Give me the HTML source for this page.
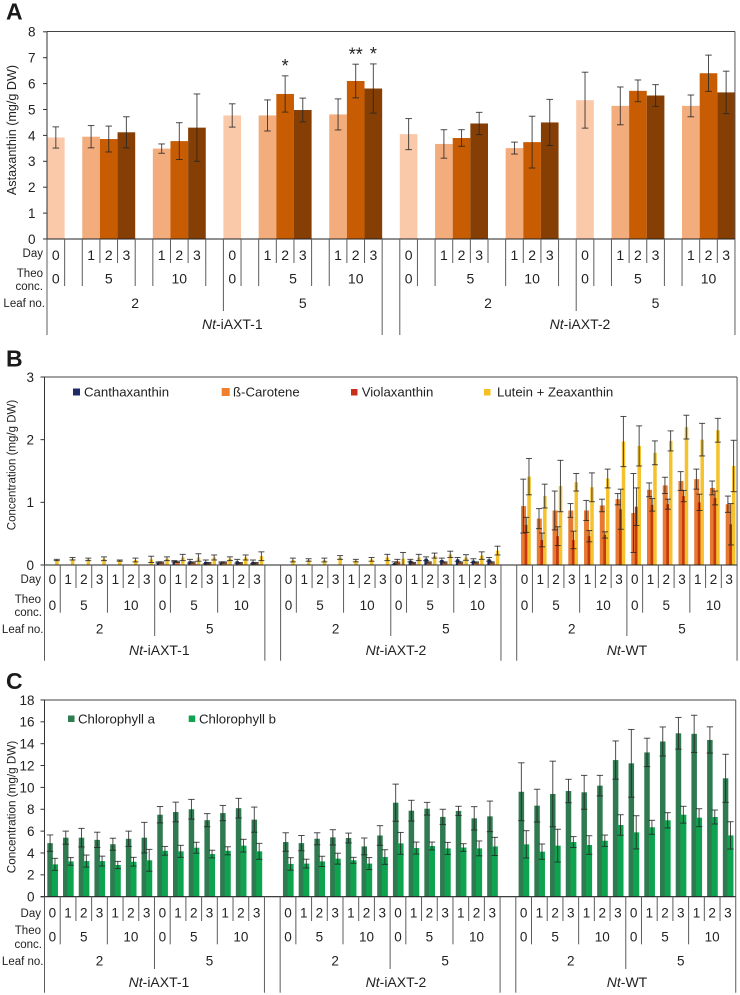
<!DOCTYPE html>
<html lang="en">
<head>
<meta charset="utf-8">
<title>Astaxanthin, carotenoid and chlorophyll concentration</title>
<style>
  html, body { margin: 0; padding: 0; background: #fff; }
  body { width: 740px; height: 995px; overflow: hidden; }
  svg { display: block; font-family: "Liberation Sans", Arial, sans-serif; fill: #222; }
  .letter { font-size: 23px; font-weight: bold; fill: #1a1a1a; }
  .row { font-size: 11.5px; text-anchor: end; }
  .strain { font-size: 14px; text-anchor: middle; }
  .legend { font-size: 13.2px; }
  .ytitle { font-size: 11.5px; text-anchor: middle; }
</style>
</head>
<body>
<svg id="figure" xmlns="http://www.w3.org/2000/svg" width="740" height="995" viewBox="0 0 740 995">

  <g id="panel-a">
    <text class="letter" x="6" y="19.5">A</text>
    <text class="ytitle" style="font-size:12.6px" transform="translate(16,130) rotate(-90)">Astaxanthin (mg/g DW)</text>
    <text class="row" x="43" y="257">Day</text>
    <text class="row" x="43" y="276.8">Theo</text>
    <text class="row" x="43" y="290">conc.</text>
    <text class="row" x="45" y="307">Leaf no.</text>
    <text class="strain" x="232.3" y="329"><tspan font-style="italic">Nt</tspan>-iAXT-1</text>
    <text class="strain" x="580" y="329"><tspan font-style="italic">Nt</tspan>-iAXT-2</text>
  </g>

  <g id="panel-b">
    <text class="letter" x="6" y="366.7">B</text>
    <text class="ytitle" transform="translate(15.5,465) rotate(-90)">Concentration (mg/g DW)</text>
    <text class="row" x="41" y="583">Day</text>
    <text class="row" x="41" y="602.8">Theo</text>
    <text class="row" x="42" y="616">conc.</text>
    <text class="row" x="43.5" y="632.8">Leaf no.</text>
    <text class="strain" x="159.3" y="655"><tspan font-style="italic">Nt</tspan>-iAXT-1</text>
    <text class="strain" x="396" y="655"><tspan font-style="italic">Nt</tspan>-iAXT-2</text>
    <text class="strain" x="627" y="655"><tspan font-style="italic">Nt</tspan>-WT</text>
    <g>
      <rect x="73" y="388.5" width="7" height="7" fill="#1f2a6b"/>
      <text class="legend" x="84" y="396.7">Canthaxanthin</text>
      <rect x="221.7" y="388" width="8" height="8" fill="#ee7f2d"/>
      <text class="legend" x="233" y="396.7">ß-Carotene</text>
      <rect x="351" y="389" width="6.5" height="6.5" fill="#c9301a"/>
      <text class="legend" x="361.7" y="396.7">Violaxanthin</text>
      <rect x="484" y="389" width="6.5" height="6.5" fill="#f5c021"/>
      <text class="legend" x="497" y="396.7">Lutein + Zeaxanthin</text>
    </g>
  </g>

  <g id="panel-c">
    <text class="letter" x="6" y="689">C</text>
    <text class="ytitle" style="font-size:11.7px" transform="translate(15.5,807) rotate(-90)">Concentration (mg/g DW)</text>
    <text class="row" x="41" y="917">Day</text>
    <text class="row" x="41" y="934">Theo</text>
    <text class="row" x="42" y="948">conc.</text>
    <text class="row" x="43.5" y="965">Leaf no.</text>
    <text class="strain" x="159" y="987"><tspan font-style="italic">Nt</tspan>-iAXT-1</text>
    <text class="strain" x="396" y="987"><tspan font-style="italic">Nt</tspan>-iAXT-2</text>
    <text class="strain" x="627" y="987"><tspan font-style="italic">Nt</tspan>-WT</text>
    <g>
      <rect x="68" y="715.5" width="6.5" height="6.5" fill="#2e7d4f"/>
      <text class="legend" x="78" y="723.7">Chlorophyll a</text>
      <rect x="188.7" y="715.5" width="6.5" height="6.5" fill="#0ea34f"/>
      <text class="legend" x="199" y="723.7">Chlorophyll b</text>
    </g>
  </g>
</svg>

<script>
const _ = null;

/* ---------- Panel A data ---------- */
const yTicksA = ['0','1','2','3','4','5','6','7','8'];
const daysA = ['0','','1','2','3','','1','2','3','','0','','1','2','3','','1','2','3','','0','','1','2','3','','1','2','3','','0','','1','2','3','','1','2','3'];
const astaxanthin = [3.92,_,3.95,3.86,4.12,_,3.49,3.78,4.30,_,4.77,_,4.77,5.60,4.98,_,4.81,6.10,5.81,_,4.05,_,3.67,3.90,4.46,_,3.51,3.74,4.50,_,5.36,_,5.14,5.72,5.54,_,5.14,6.40,5.66];
const astaxanthinErr = [.41,_,.43,.5,.6,_,.18,.71,1.3,_,.45,_,.6,.7,.46,_,.6,.65,.95,_,.6,_,.55,.32,.43,_,.23,1.0,.89,_,1.08,_,.73,.42,.42,_,.42,.7,.82];
const significanceA = ['','','','','','','','','','','','','','*','','','','**','*','','','','','','','','','','','','','','','','','','','',''];
const theoLabelsA = ['0','5','10','0','5','10','0','5','10','0','5','10'];
const theoSlotsA = [0,3,7,10,13.45,17,20,23.5,27,30,33,37];
const leafLabelsA = ['2','5','2','5'];
const leafSlotsA = [4.5,14,24.5,34];
const dividersA = ['S','T','T','D','D','T','T','D','D','T','L','T','T','D','D','T','T','D','D','S','S','T','T','D','D','D','T','D','D','T','L','T','T','D','D','T','T','D','D','S'];

/* ---------- Panel B data ---------- */
const yTicksB = ['0','1','2','3'];
const daysBC = ['0','1','2','3','1','2','3','0','1','2','3','1','2','3','','0','1','2','3','1','2','3','0','1','2','3','1','2','3','','0','1','2','3','1','2','3','0','1','2','3','1','2','3'];
const canthaxanthin = [0,0,0,0,0,0,0,.04,.06,.06,.05,.04,.06,.05,_,
  0,0,0,0,0,0,0,.03,.07,.10,.08,.09,.07,.09,_,
  0,0,0,0,0,0,0,0,0,0,0,0,0,0];
const canthaxanthinErr = [0,0,0,0,0,0,0,.01,.01,.03,.03,.01,.03,.03,_,
  0,0,0,0,0,0,0,.02,.02,.03,.03,.03,.03,.03,_,
  0,0,0,0,0,0,0,0,0,0,0,0,0,0];
const carotene = [0,0,0,0,0,0,0,.04,.05,.04,.03,.04,.03,.03,_,
  0,0,0,0,0,0,0,.06,.03,.04,.04,.04,.04,.04,_,
  .94,.74,.87,.87,.87,.95,1.05,.83,1.20,1.27,1.34,1.37,1.23,.97];
const caroteneErr = [0,0,0,0,0,0,0,.01,.01,.01,.01,.01,.01,.01,_,
  0,0,0,0,0,0,0,.03,.01,.01,.01,.01,.01,.01,_,
  .43,.16,.31,.11,.16,.10,.09,.63,.11,.13,.15,.16,.11,.13];
const violaxanthin = [0,0,0,0,0,0,0,.01,.01,.01,.01,.01,.01,.01,_,
  0,0,0,0,0,0,0,.01,.01,.01,.01,.01,.01,.01,_,
  .64,.40,.46,.40,.46,.48,.89,.93,.96,.97,1.10,1.00,1.07,.65];
const violaxanthinErr = [0,0,0,0,0,0,0,0,0,0,0,0,0,0,_,
  0,0,0,0,0,0,0,0,0,0,0,0,0,0,_,
  .12,.11,.15,.14,.09,.05,.32,.30,.10,.08,.09,.13,.11,.33];
const luteinZeaxanthin = [.08,.10,.09,.10,.07,.08,.09,.10,.12,.12,.12,.10,.12,.14,_,
  .08,.08,.08,.12,.07,.09,.12,.10,.12,.15,.17,.12,.15,.23,_,
  1.41,1.10,1.26,1.32,1.24,1.38,1.97,1.90,1.79,1.98,2.20,2.00,2.15,1.58];
const luteinZeaxanthinErr = [.01,.02,.02,.03,.01,.03,.05,.03,.05,.06,.04,.03,.04,.07,_,
  .03,.02,.03,.03,.02,.03,.05,.10,.05,.04,.05,.045,.06,.07,_,
  .29,.19,.41,.14,.23,.15,.40,.32,.19,.16,.19,.26,.19,.41];

/* ---------- Panel C data ---------- */
const yTicksC = ['0','2','4','6','8','10','12','14','16','18'];
const chlorophyllA = [4.9,5.4,5.4,5.2,4.8,5.3,5.4,7.5,7.75,8.0,7.0,7.65,8.1,7.05,_,
  5.0,4.9,5.3,5.43,5.37,4.6,5.6,8.6,7.87,8.05,7.3,7.85,7.17,7.35,_,
  9.6,8.33,9.4,9.67,9.55,10.16,12.5,12.2,13.2,14.2,14.95,14.9,14.34,10.83];
const chlorophyllAErr = [.75,.6,.85,.7,.55,.7,1.4,.75,.9,.9,.6,.7,.9,1.15,_,
  .85,.7,.55,.7,.45,.77,.9,1.7,.95,.58,.7,.42,1.07,1.4,_,
  2.65,1.5,3.0,1.07,1.55,.94,1.75,3.1,1.3,1.33,1.45,1.7,1.2,2.2];
const chlorophyllB = [2.96,3.23,3.26,3.26,2.9,3.2,3.33,4.2,4.15,4.48,3.9,4.2,4.67,4.15,_,
  3.0,3.03,3.23,3.48,3.33,3.03,3.63,4.88,4.45,4.64,4.42,4.5,4.42,4.6,_,
  4.79,4.12,4.67,5.0,4.73,5.12,6.56,5.89,6.35,6.99,7.5,7.23,7.29,5.61];
const chlorophyllBErr = [.55,.35,.55,.45,.33,.4,1.0,.4,.55,.5,.35,.37,.58,.73,_,
  .57,.4,.47,.5,.27,.55,.67,1.0,.55,.36,.55,.35,.68,.83,_,
  1.25,.7,1.5,.5,.85,.52,.94,1.52,.64,.7,.77,.82,.64,1.25];

/* ---------- Shared category labels for B and C ---------- */
const theoLabelsBC = ['0','5','10','0','5','10','0','5','10','0','5','10','0','5','10','0','5','10'];
const theoSlotsBC = [0,2,5,7,9,12,15,17,20,22,24,27,30,32,35,37,39,42];
const leafLabelsBC = ['2','5','2','5','2','5'];
const leafSlotsBC = [3,10,18,25,33,40];
const dividersBC = ['S','T','D','D','T','D','D','L','T','D','D','T','D','D','S','S','T','D','D','T','D','D','L','T','D','D','T','D','D','S','S','T','D','D','T','D','D','L','T','D','D','T','D','D','S'];

/* ---------- Drawing helpers ---------- */
const SVGNS = 'http://www.w3.org/2000/svg';

function make(tag, attrs, parent) {
  const el = document.createElementNS(SVGNS, tag);
  for (const k in attrs) el.setAttribute(k, attrs[k]);
  parent.appendChild(el);
  return el;
}

function drawLine(parent, name, x1, y1, x2, y2, color, width, opacity) {
  const el = make('line', { x1, y1, x2, y2, stroke: color, 'stroke-width': width, 'stroke-opacity': opacity === undefined ? 1 : opacity }, parent);
  
  
  return el;
}

function drawLabel(parent, name, x, yCentre, text, size, anchor) {
  const el = make('text', { x, y: yCentre + size * 0.36, 'font-size': size, 'text-anchor': anchor || 'middle' }, parent);
  el.textContent = text;
  
  
  return el;
}

function drawBar(parent, name, x, width, yTop, yBase, color) {
  const el = make('rect', { x, y: yTop, width, height: Math.max(0, yBase - yTop), fill: color }, parent);
  
  
  return el;
}

function drawError(parent, name, x, yHigh, yLow, cap) {
  const g = make('g', { stroke: '#262626', 'stroke-width': 1, 'stroke-opacity': 0.82 }, parent);
  
  
  make('line', { x1: x, y1: yHigh, x2: x, y2: yLow }, g);
  make('line', { x1: x - cap, y1: yHigh, x2: x + cap, y2: yHigh }, g);
  make('line', { x1: x - cap, y1: yLow, x2: x + cap, y2: yLow }, g);
}

function drawPanel(cfg) {
  const host = document.getElementById(cfg.host);
  const x = i => cfg.left + i * cfg.slot;
  const mid = i => x(i) + cfg.slot / 2;
  const y = v => cfg.y0 - v * cfg.unit;
  const right = x(cfg.days.length);

  /* bars, drawn cluster by cluster so error bars sit above their cluster */
  cfg.days.forEach((day, i) => {
    cfg.series.forEach(s => {
      const v = s.values[i];
      if (v === null || v <= 0) return;
      const color = s.colorByDay ? s.colorByDay[day] : s.color;
      drawBar(host, 'bar-' + s.key + '-' + i, mid(i) + s.offset - s.width / 2, s.width, y(v), cfg.y0, color);
    });
    cfg.series.forEach(s => {
      const v = s.values[i];
      const e = s.errors[i];
      if (v === null || !e) return;
      drawError(host, 'error-bar-' + s.key + '-' + i, mid(i) + s.errOffset, y(v + e), y(v - e), cfg.cap);
    });
    if (cfg.significance && cfg.significance[i]) {
      const s = cfg.series[0];
      const star = make('text', { x: mid(i), y: y(s.values[i] + s.errors[i]) - 1.3 - 2.5, 'font-size': 18, 'text-anchor': 'middle' }, host);
      star.textContent = cfg.significance[i];
      
      
    }
  });

  /* frame and axis */
  drawLine(host, 'plot-top-border', cfg.left, cfg.top, right, cfg.top, '#444', 1);
  drawLine(host, 'plot-right-border', right, cfg.top, right, cfg.y0, '#555', 1);
  drawLine(host, 'x-axis-line', cfg.left - 4, cfg.y0, right, cfg.y0, '#222', 1.1);
  drawLine(host, 'y-axis-line', cfg.left, cfg.top, cfg.left, cfg.y0, '#333', 1);

  /* y ticks */
  cfg.ticks.forEach(t => {
    const yy = y(+t);
    drawLine(host, 'y-tick-' + t, cfg.left - 4, yy, cfg.left, yy, '#333', 1);
    drawLabel(host, 'y-tick-label-' + t, cfg.tickX, yy, t, 13.5, 'end');
  });

  /* category dividers */
  cfg.dividers.forEach((level, i) => {
    drawLine(host, 'category-divider-' + i, x(i), cfg.y0, x(i), cfg.ends[level], '#5c5c5c', 1);
  });

  /* category rows */
  cfg.days.forEach((day, i) => {
    if (day !== '') drawLabel(host, 'day-label-' + i, mid(i), cfg.rowDay, day, cfg.labelSize);
  });
  cfg.theoLabels.forEach((t, i) => {
    drawLabel(host, 'theo-label-' + i, mid(cfg.theoSlots[i]), cfg.rowTheo, t, cfg.labelSize);
  });
  cfg.leafLabels.forEach((t, i) => {
    drawLabel(host, 'leaf-label-' + i, mid(cfg.leafSlots[i]), cfg.rowLeaf, t, cfg.labelSize);
  });
}

drawPanel({
  host: 'panel-a', left: 47, slot: 17.64, top: 31.5, y0: 239, unit: 25.9, cap: 3.3, tickX: 35.5, labelSize: 14,
  ticks: yTicksA, days: daysA, dividers: dividersA, significance: significanceA,
  ends: { D: 263, T: 286, L: 311, S: 335 },
  rowDay: 255, rowTheo: 278.7, rowLeaf: 303,
  theoLabels: theoLabelsA, theoSlots: theoSlotsA, leafLabels: leafLabelsA, leafSlots: leafSlotsA,
  series: [{ key: 'astaxanthin', values: astaxanthin, errors: astaxanthinErr, offset: 0, errOffset: 0, width: 17.64,
    colorByDay: { '0': '#f9c9a9', '1': '#f3ac7c', '2': '#c85c02', '3': '#853f04' } }]
});

drawPanel({
  host: 'panel-b', left: 44.5, slot: 15.74, top: 377, y0: 565, unit: 62.67, cap: 3, tickX: 34, labelSize: 13.5,
  ticks: yTicksB, days: daysBC, dividers: dividersBC,
  ends: { D: 588, T: 612.7, L: 636, S: 660.7 },
  rowDay: 579, rowTheo: 605, rowLeaf: 628.7,
  theoLabels: theoLabelsBC, theoSlots: theoSlotsBC, leafLabels: leafLabelsBC, leafSlots: leafSlotsBC,
  series: [
    { key: 'canthaxanthin', values: canthaxanthin, errors: canthaxanthinErr, offset: -4, errOffset: -4, width: 3.5, color: '#1f2a6b' },
    { key: 'carotene', values: carotene, errors: caroteneErr, offset: -1, errOffset: -1.3, width: 5, color: '#e67a32' },
    { key: 'violaxanthin', values: violaxanthin, errors: violaxanthinErr, offset: 1.8, errOffset: 1.7, width: 3.5, color: '#c8380e' },
    { key: 'lutein-zeaxanthin', values: luteinZeaxanthin, errors: luteinZeaxanthinErr, offset: 4.5, errOffset: 4.4, width: 3.5, color: '#f3c22d' }
  ]
});

drawPanel({
  host: 'panel-c', left: 44.5, slot: 15.71, top: 700, y0: 896.7, unit: 10.93, cap: 3.2, tickX: 34.5, labelSize: 13.5,
  ticks: yTicksC, days: daysBC, dividers: dividersBC,
  ends: { D: 921, T: 944.3, L: 969, S: 992.7 },
  rowDay: 912.7, rowTheo: 936.7, rowLeaf: 960.7,
  theoLabels: theoLabelsBC, theoSlots: theoSlotsBC, leafLabels: leafLabelsBC, leafSlots: leafSlotsBC,
  series: [
    { key: 'chlorophyll-a', values: chlorophyllA, errors: chlorophyllAErr, offset: -2.3, errOffset: -2.3, width: 5.5, color: '#2f7a50' },
    { key: 'chlorophyll-b', values: chlorophyllB, errors: chlorophyllBErr, offset: 2.6, errOffset: 2.6, width: 6, color: '#0ea34f' }
  ]
});
</script>
</body>
</html>
